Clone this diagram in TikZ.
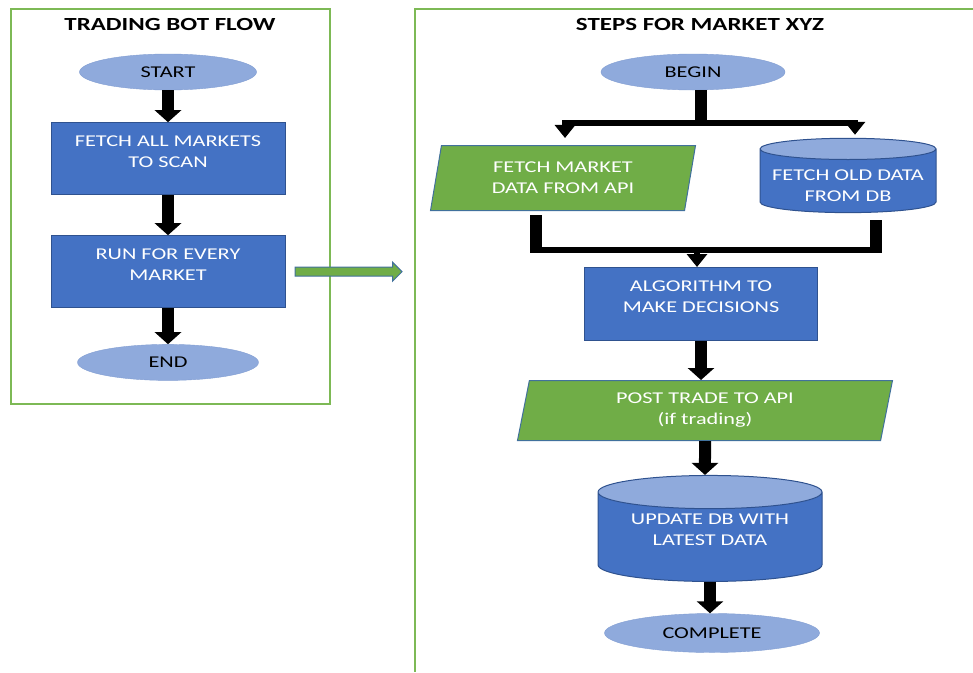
\documentclass[tikz,border=0pt]{standalone}
\usepackage{fontspec}
\setmainfont{Carlito}[FakeStretch=1.35]
\usepackage{tikz}
\usetikzlibrary{shapes,arrows.meta,positioning}
\definecolor{boxblue}{RGB}{68,114,196}
\definecolor{boxline}{RGB}{47,82,143}
\definecolor{termfill}{RGB}{143,170,220}
\definecolor{termline}{RGB}{130,158,210}
\definecolor{iogreen}{RGB}{112,173,71}
\definecolor{ioline}{RGB}{65,113,156}
\definecolor{framegreen}{RGB}{125,185,85}
\newcommand{\boxfont}{\fontsize{16.5}{21}\selectfont}
\newcommand{\lift}[2][6pt]{\raisebox{#1}[\height][\depth]{\begin{tabular}{@{}c@{}}#2\end{tabular}}}
\tikzstyle{term} = [ellipse, draw=termline, fill=termfill, text=black, inner sep=0pt, font=\boxfont, minimum height=36pt]
\tikzstyle{proc} = [rectangle, draw=boxline, line width=1pt, fill=boxblue, text=white, align=center, font=\boxfont, minimum width=234pt, minimum height=72pt]
\tikzstyle{io} = [trapezium, trapezium left angle=71, trapezium right angle=109, trapezium stretches body, draw=ioline, line width=1pt, fill=iogreen, text=white, align=center, font=\boxfont, inner sep=0pt]
\tikzstyle{db} = [cylinder, shape border rotate=90, cylinder uses custom fill, cylinder body fill=boxblue, cylinder end fill=termfill, draw=boxline, line width=1pt, text=white, align=center, font=\boxfont, inner sep=0pt]
\tikzstyle{textonly} = [draw=none, fill=none, text centered, font=\bfseries\fontsize{18.5}{22}\selectfont]
\tikzstyle{flow} = [line width=12pt, -{Triangle[width=26pt,length=12pt]}]
\tikzstyle{branch} = [line width=6pt]
\tikzstyle{frame} = [draw=framegreen, line width=1.5pt]

\begin{document}
\begin{tikzpicture}[x=1pt, y=-1pt]
\useasboundingbox (0,0) rectangle (973,672);

% frames =================================
\draw[frame] (11,9) rectangle (330,404);
\draw[frame] (973,9) -- (415,9) -- (415,672);

% trading bot flow
\node[textonly] (bot) at (170,24) {TRADING BOT FLOW};
\node[term, minimum width=177pt] (start) at (168,72) {START};
\node[proc, below=32pt of start] (fetch) {\lift{FETCH ALL MARKETS\\TO SCAN}};
\node[proc, below=40pt of fetch] (run) {\lift{RUN FOR EVERY\\MARKET}};
\node[term, minimum width=181pt, below=36pt of run] (end) {END};

\draw[flow] (start) -- (fetch);
\draw[flow] (fetch) -- (run);
\draw[flow] (run) -- (end);

% hand over to the market steps
\node[single arrow, draw=ioline, fill=iogreen, line width=1pt, minimum height=107pt, inner sep=4pt, single arrow head extend=5pt, single arrow head indent=0pt, right=9pt of run] (next) {};

% steps for market xyz
\node[textonly] (steps) at (700,24) {STEPS FOR MARKET XYZ};
\node[term, minimum width=184pt] (begin) at (693,72) {BEGIN};
\node[io, minimum width=265pt, minimum height=65pt] (api) at (563,178) {FETCH MARKET\\DATA FROM API};
\node[db, aspect=0.14, minimum width=176pt, minimum height=74pt] (olddb) at (848,181) {\lift[-6pt]{FETCH OLD DATA\\FROM DB}};
\node[proc, minimum width=233pt, minimum height=73pt] (algo) at (701,304) {\lift{ALGORITHM TO\\MAKE DECISIONS}};
\node[io, minimum width=375pt, minimum height=60pt, below=39pt of algo.south, anchor=north, xshift=4pt] (post) {POST TRADE TO API\\(if trading)};
\node[db, aspect=0.21, minimum width=224pt, minimum height=106pt] (update) at (710,537) {\lift[6pt]{UPDATE DB WITH\\LATEST DATA}};
\node[term, minimum width=215pt, minimum height=39pt] (complete) at (712,633) {COMPLETE};

% split after begin
\coordinate (split) at (701,123);
\coordinate (splitl) at (565,123);
\coordinate (splitr) at (855,123);
\draw[line width=12pt] (split |- begin.south) -- ([yshift=-3pt]split);
\draw[branch] ([xshift=-3pt]splitl) -- ([xshift=3pt]splitr);
\draw[branch, -{Triangle[width=20pt,length=13pt]}] (splitl) -- ([yshift=7pt]splitl |- api.north);
\draw[branch, -{Triangle[width=20pt,length=13pt]}] (splitr) -- ([yshift=3pt]splitr |- olddb.north);

% join before algorithm
\coordinate (joinl) at (536,250);
\coordinate (joinr) at (876,250);
\coordinate (join) at (697,250);
\draw[line width=12pt] ([yshift=-4pt]joinl |- api.south) -- ([yshift=-3pt]joinl);
\draw[line width=12pt] ([yshift=-7pt]joinr |- olddb.south) -- ([yshift=-3pt]joinr);
\draw[branch] ([xshift=-6pt]joinl) -- ([xshift=6pt]joinr);
\draw[branch, -{Triangle[width=20pt,length=13pt]}] (join) -- (join |- algo.north);

\draw[flow] (algo) -- (algo |- post.north);
\draw[flow] (post) -- (post |- update.north);
\draw[flow] (update) -- (update |- complete.north);

\end{tikzpicture}
\end{document}
